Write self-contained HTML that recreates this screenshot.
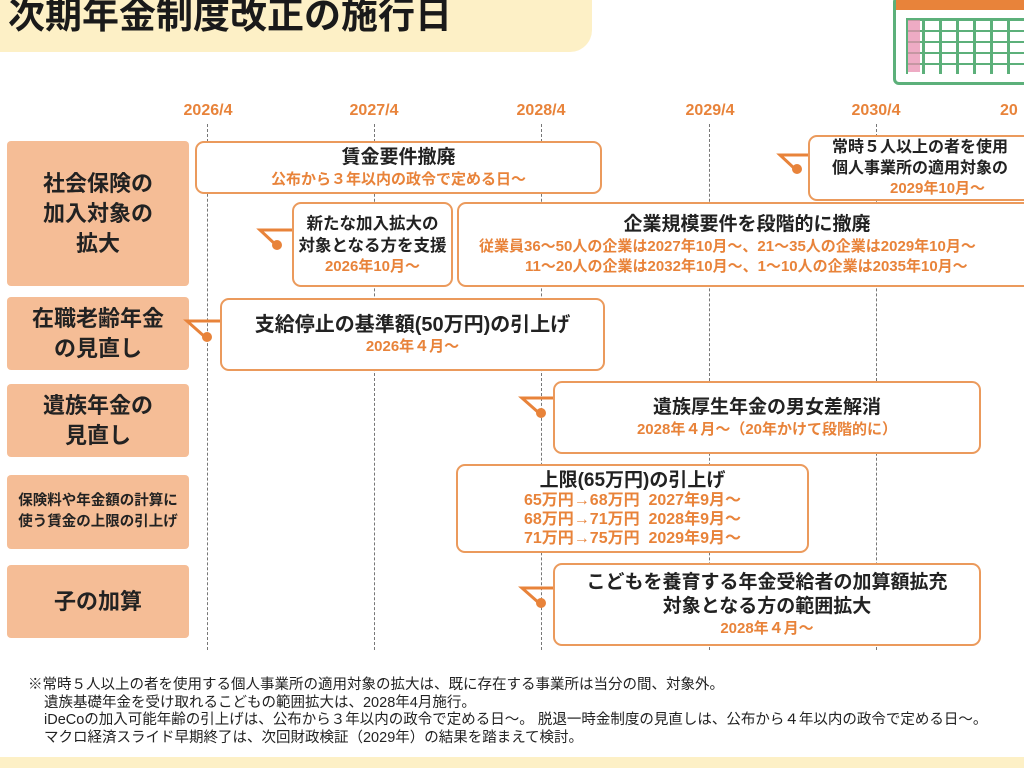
<!DOCTYPE html>
<html><head><meta charset="utf-8"><style>
*{margin:0;padding:0;box-sizing:border-box}
body{width:1024px;height:768px;overflow:hidden;background:#fff;position:relative;font-family:"Liberation Sans","Noto Sans CJK JP",sans-serif;font-weight:bold;color:#222}
.a{position:absolute}
.cat{position:absolute;left:7px;width:182px;background:#f5bd96;border-radius:4px;display:flex;align-items:center;justify-content:center;text-align:center;font-size:22px;line-height:30px;color:#222}
.ev{position:absolute;background:#fff;border:2px solid #eb9a5c;border-radius:9px;text-align:center;display:flex;flex-direction:column;justify-content:center;font-size:19px;line-height:24px;white-space:nowrap;overflow:hidden}
.o{color:#e8833a;font-size:15px;line-height:20px}
.yr{position:absolute;top:102px;color:#e8833a;font-size:16px;width:80px;text-align:center}
.dl{position:absolute;top:124px;height:526px;border-left:1px dashed #777}
</style></head><body>
<div class="a" style="left:0;top:0;width:592px;height:52px;background:#fdf0c6;border-bottom-right-radius:22px"></div>
<div class="a" style="left:8px;top:-8px;font-size:37px;line-height:48px;color:#1a1a1a">次期年金制度改正の施行日</div>
<!-- calendar -->
<div class="a" style="left:893px;top:-4px;width:140px;height:89px;border:3px solid #5cb07a;border-radius:6px;background:#fff"></div>
<div class="a" style="left:896px;top:0;width:134px;height:10px;background:#e8833a"></div>
<div class="a" style="left:906px;top:18px;width:120px;height:56px;background:#5cb07a"></div>
<div class="a" style="left:908px;top:20px;width:120px;height:54px;background:repeating-linear-gradient(90deg,#fff 0 14px,transparent 14px 17px);-webkit-mask:repeating-linear-gradient(0deg,#000 0 9px,transparent 9px 11px);mask:repeating-linear-gradient(0deg,#000 0 9px,transparent 9px 11px)"></div>
<div class="a" style="left:908px;top:20px;width:12px;height:52px;background:#e88fb0;opacity:.75"></div>

<div class="yr" style="left:168px">2026/4</div>
<div class="yr" style="left:334px">2027/4</div>
<div class="yr" style="left:501px">2028/4</div>
<div class="yr" style="left:670px">2029/4</div>
<div class="yr" style="left:836px">2030/4</div>
<div class="yr" style="left:1000px;text-align:left">20</div>
<div class="dl" style="left:207px"></div>
<div class="dl" style="left:374px"></div>
<div class="dl" style="left:541px"></div>
<div class="dl" style="left:709px"></div>
<div class="dl" style="left:876px"></div>

<div class="cat" style="top:141px;height:145px">社会保険の<br>加入対象の<br>拡大</div>
<div class="cat" style="top:297px;height:73px">在職老齢年金<br>の見直し</div>
<div class="cat" style="top:384px;height:73px">遺族年金の<br>見直し</div>
<div class="cat" style="top:475px;height:74px;font-size:14.5px;line-height:21px">保険料や年金額の計算に<br>使う賃金の上限の引上げ</div>
<div class="cat" style="top:565px;height:73px">子の加算</div>

<div class="ev" style="left:195px;top:141px;width:407px;height:53px">賃金要件撤廃<span class="o">公布から３年以内の政令で定める日～</span></div>
<div class="ev" style="left:808px;top:135px;width:240px;height:66px;font-size:16px;line-height:21px;align-items:flex-start;padding-left:22px;text-align:left">常時５人以上の者を使用<br>個人事業所の適用対象の<span class="o" style="padding-left:58px">2029年10月～</span></div>
<div class="ev" style="left:292px;top:202px;width:161px;height:85px;font-size:16.5px;line-height:22px">新たな加入拡大の<br>対象となる方を支援<span class="o">2026年10月～</span></div>
<div class="ev" style="left:457px;top:202px;width:620px;height:85px;align-items:flex-start;padding-left:18px">
<div style="width:540px;text-align:center">企業規模要件を段階的に撤廃</div>
<span class="o" style="margin-left:2px">従業員36～50人の企業は2027年10月～、21～35人の企業は2029年10月～</span>
<span class="o" style="margin-left:48px">11～20人の企業は2032年10月～、1～10人の企業は2035年10月～</span></div>
<div class="ev" style="left:220px;top:298px;width:385px;height:73px;font-size:20px">支給停止の基準額(50万円)の引上げ<span class="o">2026年４月～</span></div>
<div class="ev" style="left:553px;top:381px;width:428px;height:73px">遺族厚生年金の男女差解消<span class="o">2028年４月～（20年かけて段階的に）</span></div>
<div class="ev" style="left:456px;top:464px;width:353px;height:89px;line-height:21px">上限(65万円)の引上げ<span class="o" style="font-size:16px;line-height:19px">65万円→68万円&nbsp; 2027年9月～<br>68万円→71万円&nbsp; 2028年9月～<br>71万円→75万円&nbsp; 2029年9月～</span></div>
<div class="ev" style="left:553px;top:563px;width:428px;height:83px">こどもを養育する年金受給者の加算額拡充<br>対象となる方の範囲拡大<span class="o">2028年４月～</span></div>

<svg class="a" style="left:0;top:0" width="1024" height="768">
<g stroke="#e8833a" stroke-width="3" fill="none">
<polyline points="808,155 780,155 795,169"/>
<polyline points="292,230 260,230 276,245"/>
<polyline points="220,321 187,321 205,337"/>
<polyline points="553,398 522,398 539,413"/>
<polyline points="553,588 522,588 539,603"/>
</g>
<g fill="#e8833a">
<circle cx="797" cy="169" r="5"/><circle cx="277" cy="245" r="5"/><circle cx="207" cy="337" r="5"/><circle cx="541" cy="413" r="5"/><circle cx="541" cy="603" r="5"/>
</g>
</svg>

<div class="a" style="left:28px;top:677px;font-size:14.5px;line-height:17.5px;font-weight:normal;color:#222;white-space:nowrap">※常時５人以上の者を使用する個人事業所の適用対象の拡大は、既に存在する事業所は当分の間、対象外。<br>
<span style="padding-left:16px">遺族基礎年金を受け取れるこどもの範囲拡大は、2028年4月施行。</span><br>
<span style="padding-left:16px">iDeCoの加入可能年齢の引上げは、公布から３年以内の政令で定める日～。 脱退一時金制度の見直しは、公布から４年以内の政令で定める日～。</span><br>
<span style="padding-left:16px">マクロ経済スライド早期終了は、次回財政検証（2029年）の結果を踏まえて検討。</span></div>
<div class="a" style="left:0;top:757px;width:1024px;height:11px;background:#fdf0c6"></div>
</body></html>
